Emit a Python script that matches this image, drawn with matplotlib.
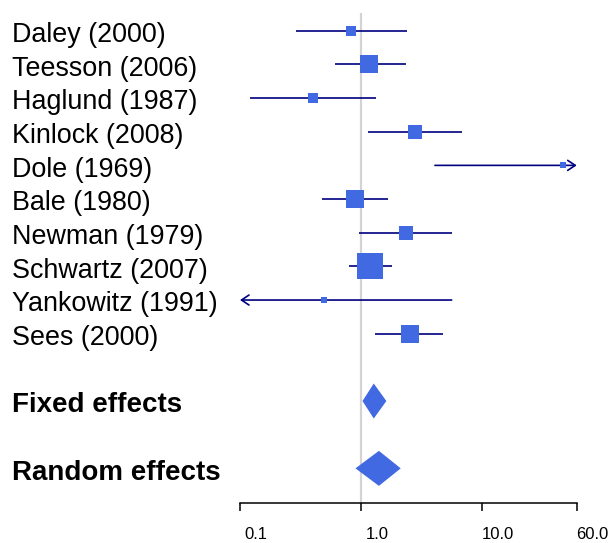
import numpy as np
import matplotlib
matplotlib.use("Agg")
import matplotlib.pyplot as plt
from matplotlib import transforms
from matplotlib.ticker import NullLocator

plt.rcParams['font.family'] = ['Liberation Sans', 'DejaVu Sans']

# Study estimates (odds ratio with 95% CI)
studies = ["Daley (2000)", "Teesson (2006)", "Haglund (1987)", "Kinlock (2008)",
           "Dole (1969)", "Bale (1980)", "Newman (1979)", "Schwartz (2007)",
           "Yankowitz (1991)", "Sees (2000)"]
est = [0.83, 1.165, 0.40, 2.79, 45.9, 0.89, 2.36, 1.19, 0.49, 2.52]
lower = [0.289, 0.604, 0.121, 1.135, 4.06, 0.477, 0.962, 0.789, 0.03, 1.297]
upper = [2.41, 2.33, 1.33, 6.84, 130.0, 1.675, 5.58, 1.795, 5.58, 4.73]
weight = [5.0, 13.2, 4.4, 8.6, 2.0, 13.2, 8.6, 29.8, 2.0, 13.2]  # relative weight (%)

summary_labels = ["Fixed effects", "Random effects"]
summary_est = [1.27, 1.40]
summary_lower = [1.025, 0.897]
summary_upper = [1.613, 2.12]

tick_vals = [0.1, 1.0, 10.0, 60.0]
tick_labels = ["0.1", "1.0", "10.0", "60.0"]

xmin, xmax = 0.1, 60.0
line_col = "#000080"
box_col = "#4169E1"

fig = plt.figure(figsize=(6.08, 5.43), dpi=100)
ax = fig.add_axes([240 / 608, 1 - 502.7 / 543, (576.7 - 240) / 608, (502.7 - 13) / 543])
ax.set_xscale("log")
ax.set_xlim(xmin, xmax)
ax.set_ylim(15.02, 0.474)

rows = np.arange(1, len(studies) + 1)
sum_rows = [len(studies) + 2, len(studies) + 4]

# reference line at 1
ax.axvline(1.0, color="#d3d3d3", lw=1.6, zorder=0)

# CI lines, arrows when clipped
arrow_kw = dict(arrowstyle="->,head_length=0.45,head_width=0.3", color=line_col, lw=1.2,
                shrinkA=0, shrinkB=0, mutation_scale=12)
for r, lo, hi in zip(rows, lower, upper):
    lo_c, hi_c = max(lo, xmin), min(hi, xmax)
    if hi > xmax:
        ax.annotate("", xy=(xmax, r), xytext=(lo_c, r), arrowprops=arrow_kw,
                    annotation_clip=False)
    elif lo < xmin:
        ax.annotate("", xy=(xmin, r), xytext=(hi_c, r), arrowprops=arrow_kw,
                    annotation_clip=False)
    else:
        ax.plot([lo_c, hi_c], [r, r], color=line_col, lw=1.2, solid_capstyle="butt", zorder=2)

# boxes sized by weight
w = np.array(weight)
sizes = 26 * np.sqrt(w / w.max()) * 0.72
for r, e, s in zip(rows, est, sizes):
    ax.plot(e, r, marker="s", markersize=s, color=box_col, markeredgewidth=0, zorder=3)

# summary diamonds
h = 0.52
for r, lo, e, hi in zip(sum_rows, summary_lower, summary_est, summary_upper):
    ax.fill([lo, e, hi, e], [r, r - h, r, r + h], color=box_col, lw=0, zorder=3)

# labels
tr = transforms.blended_transform_factory(fig.transFigure, ax.transData)
tr = tr + transforms.ScaledTranslation(0, -3 / 72, fig.dpi_scale_trans)
for r, name in zip(rows, studies):
    ax.text(12 / 608, r, name, transform=tr, ha="left", va="center", fontsize=19.4)
for r, name in zip(sum_rows, summary_labels):
    ax.text(12 / 608, r, name, transform=tr, ha="left", va="center", fontsize=20,
            fontweight="bold")

# axis
for side in ["left", "right", "top"]:
    ax.spines[side].set_visible(False)
ax.spines["bottom"].set_linewidth(1.1)
ax.set_yticks([])
ax.xaxis.set_minor_locator(NullLocator())
ax.set_xticks(tick_vals, labels=[""] * len(tick_vals))
ax.tick_params(axis="x", direction="out", length=5.4, width=1.1)
for t, lab in zip(tick_vals, tick_labels):
    ax.annotate(lab, xy=(t, 0), xycoords=("data", "axes fraction"),
                xytext=(11.5, -23), textcoords="offset points",
                ha="center", va="center", fontsize=12, annotation_clip=False)

fig.savefig("out.png", dpi=100)
